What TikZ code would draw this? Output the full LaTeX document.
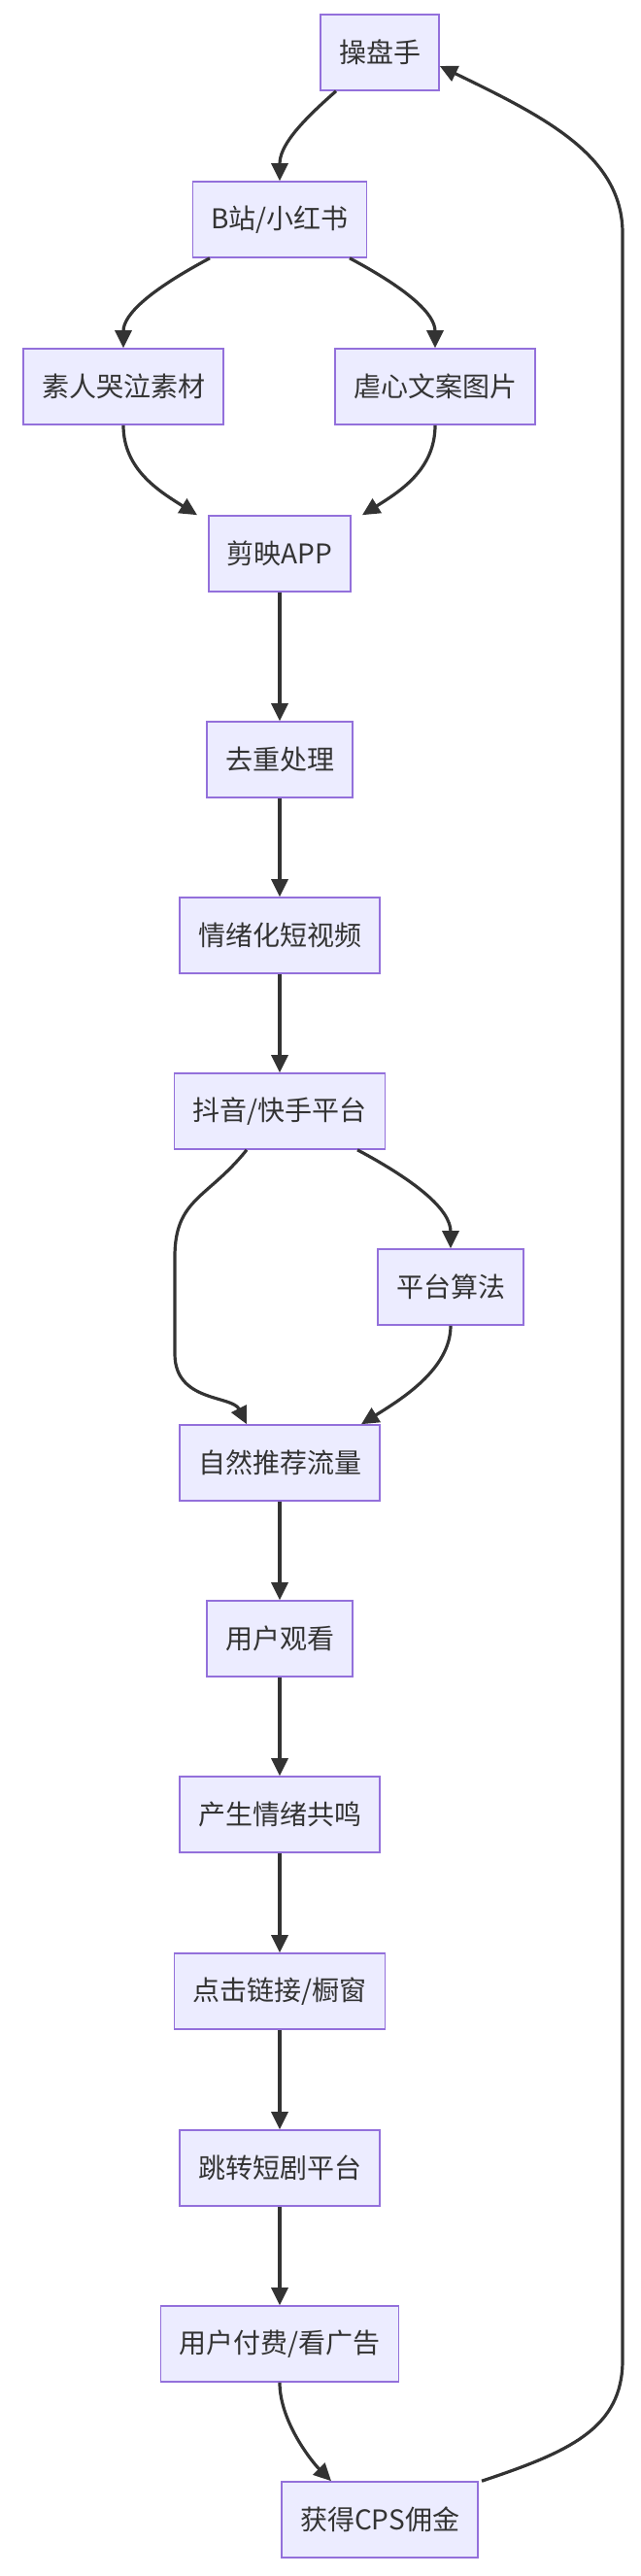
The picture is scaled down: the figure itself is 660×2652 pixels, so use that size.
\documentclass[tikz,border=0pt]{standalone}
\usepackage{fontspec}
\setmainfont{Noto Sans CJK SC}
\usetikzlibrary{arrows.meta}
\definecolor{nfill}{HTML}{ECECFF}
\definecolor{nline}{HTML}{9370DB}
\definecolor{ink}{HTML}{333333}
\begin{document}
\begin{tikzpicture}[x=1pt,y=-1pt,
  box/.style={draw=nline,fill=nfill,line width=1.6pt,minimum height=78pt,inner xsep=19pt,inner ysep=0pt,text=ink,font=\fontsize{28}{34}\selectfont},
  ar/.style={draw=ink,line width=3.2pt,-{Triangle[length=18pt,width=17pt]}}]
\useasboundingbox (0,0) rectangle (660,2652);
\node[box] (cps) at (391,54) {操盘手};
\node[box] (b) at (288,226) {B站/小红书};
\node[box] (s1) at (127,398) {素人哭泣素材};
\node[box] (s2) at (448,398) {虐心文案图片};
\node[box] (jy) at (288,570) {剪映APP};
\node[box] (qc) at (288,782) {去重处理};
\node[box] (qx) at (288,963) {情绪化短视频};
\node[box] (dy) at (288,1144) {抖音/快手平台};
\node[box] (sf) at (464,1325) {平台算法};
\node[box] (zr) at (288,1506) {自然推荐流量};
\node[box] (gk) at (288,1687) {用户观看};
\node[box] (gm) at (288,1868) {产生情绪共鸣};
\node[box] (dj) at (288,2050) {点击链接/橱窗};
\node[box] (tz) at (288,2232) {跳转短剧平台};
\node[box] (ff) at (288,2413) {用户付费/看广告};
\node[box] (yj) at (391,2594) {获得CPS佣金};
\draw[ar] ([xshift=-45pt]cps.south) .. controls +(-40,35) and +(0,-35) .. (b.north);
\draw[ar] ([xshift=-72pt]b.south) .. controls +(-60,32) and +(0,-35) .. (s1.north);
\draw[ar] ([xshift=72pt]b.south) .. controls +(60,32) and +(0,-35) .. (s2.north);
\draw[ar] (s1.south) .. controls +(0,45) and +(-40,-25) .. ([xshift=-85pt]jy.north);
\draw[ar] (s2.south) .. controls +(0,45) and +(40,-25) .. ([xshift=85pt]jy.north);
\draw[ar] (jy) -- (qc);
\draw[ar] (qc) -- (qx);
\draw[ar] (qx) -- (dy);
\draw[ar] ([xshift=-34pt]dy.south) .. controls +(-40,50) and +(0,-60) .. ++(-74,110) -- ++(0,100) .. controls +(0,50) and +(-15,-30) .. ([xshift=-34pt]zr.north);
\draw[ar] ([xshift=80pt]dy.south) .. controls +(60,32) and +(0,-40) .. (sf.north);
\draw[ar] (sf.south) .. controls +(0,45) and +(40,-25) .. ([xshift=84pt]zr.north);
\draw[ar] (zr) -- (gk);
\draw[ar] (gk) -- (gm);
\draw[ar] (gm) -- (dj);
\draw[ar] (dj) -- (tz);
\draw[ar] (tz) -- (ff);
\draw[ar] (ff.south) .. controls +(0,40) and +(-20,-20) .. ([xshift=-50pt]yj.north);
\draw[ar] ([xshift=105pt]yj.north) .. controls +(90,-30) and +(0,70) .. (641,2430) -- (641,240) .. controls (641,160) and (560,120) .. ([yshift=-14pt]cps.east);
\end{tikzpicture}
\end{document}
